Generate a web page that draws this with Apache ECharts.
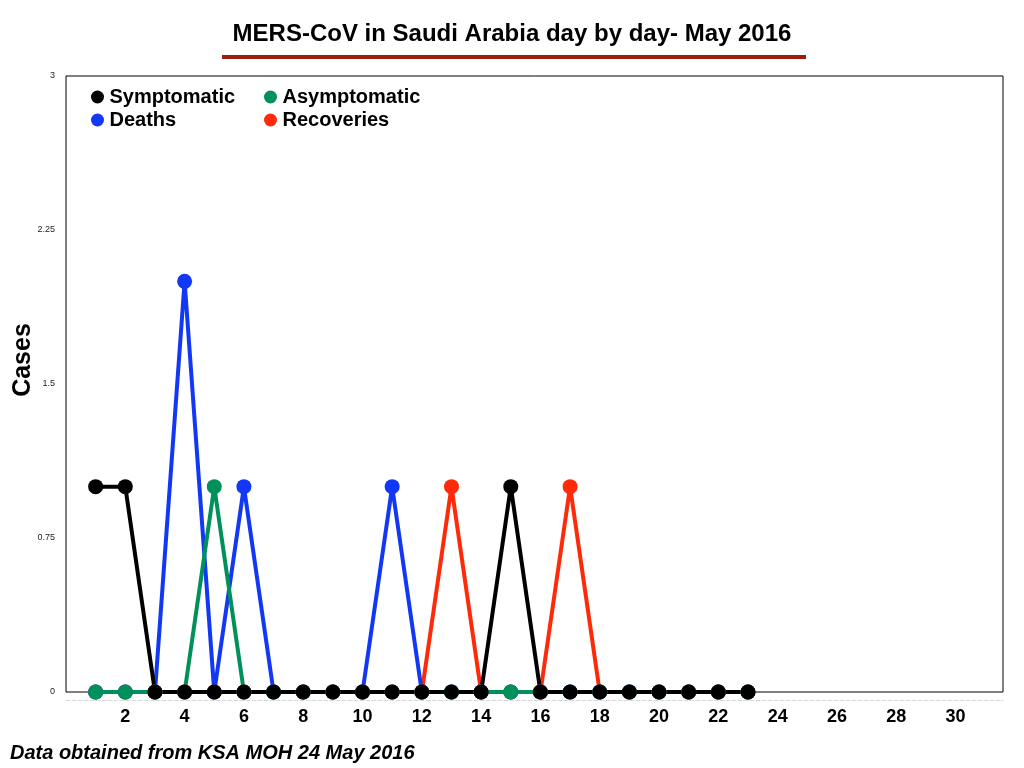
<!DOCTYPE html>
<html>
<head>
<meta charset="utf-8">
<script src="https://cdn.jsdelivr.net/npm/echarts@6/dist/echarts.min.js"></script>
<style>
  html, body { margin: 0; padding: 0; background: #fff; }
  #chart { width: 1024px; height: 768px; }
</style>
</head>
<body>
<div id="chart"></div>
<script>
// May 2016, day of month
const days = [1, 2, 3, 4, 5, 6, 7, 8, 9, 10, 11, 12, 13, 14, 15, 16, 17, 18, 19, 20, 21, 22, 23];
const symptomatic  = [1, 1, 0, 0, 0, 0, 0, 0, 0, 0, 0, 0, 0, 0, 1, 0, 0, 0, 0, 0, 0, 0, 0];
const asymptomatic = [0, 0, 0, 0, 1, 0, 0, 0, 0, 0, 0, 0, 0, 0, 0, 0, 0, 0, 0, 0, 0, 0, 0];
const deaths       = [0, 0, 0, 2, 0, 1, 0, 0, 0, 0, 1, 0, 0, 0, 0, 0, 0, 0, 0, 0, 0, 0, 0];
const recoveries   = [0, 0, 0, 0, 0, 0, 0, 0, 0, 0, 0, 0, 1, 0, 0, 0, 1, 0, 0, 0, 0, 0, 0];
const xTicks = [2, 4, 6, 8, 10, 12, 14, 16, 18, 20, 22, 24, 26, 28, 30];

const font = '"Liberation Sans", Arial, sans-serif';

const pair = (vals) => days.map((d, i) => [d, vals[i]]);
const mkLine = (name, color, vals) => ({
  name,
  type: 'line',
  data: pair(vals),
  symbol: 'circle',
  symbolSize: 15,
  lineStyle: { color, width: 4 },
  itemStyle: { color },
  animation: false
});

const legendText = { fontFamily: font, fontSize: 20, fontWeight: 'bold', color: '#000' };

const chart = echarts.init(document.getElementById('chart'), null, { renderer: 'canvas' });
chart.setOption({
  backgroundColor: '#fff',
  title: [
    {
      text: 'MERS-CoV in Saudi Arabia day by day- May 2016',
      left: 'center',
      top: 17,
      textStyle: { fontFamily: font, fontSize: 24, fontWeight: 'bold', color: '#000' }
    },
    {
      text: 'Data obtained from KSA MOH 24 May 2016',
      left: 5,
      top: 738,
      textStyle: { fontFamily: font, fontSize: 20, fontWeight: 'bold', fontStyle: 'italic', color: '#000' }
    }
  ],
  graphic: [
    { type: 'rect', shape: { x: 222, y: 55, width: 584, height: 4 }, style: { fill: '#9b1d0e' } }
  ],
  legend: [
    {
      data: ['Symptomatic', 'Deaths'],
      orient: 'vertical',
      left: 86,
      top: 82,
      icon: 'circle',
      itemWidth: 14,
      itemHeight: 13,
      itemGap: 3,
      textStyle: legendText
    },
    {
      data: ['Asymptomatic', 'Recoveries'],
      orient: 'vertical',
      left: 259,
      top: 82,
      icon: 'circle',
      itemWidth: 14,
      itemHeight: 13,
      itemGap: 3,
      textStyle: legendText
    }
  ],
  grid: {
    left: 66, right: 21, top: 76, bottom: 76,
    outerBoundsMode: 'none',
    show: true, borderColor: '#000', borderWidth: 1, backgroundColor: 'transparent'
  },
  xAxis: [
    {
      type: 'value',
      min: 0,
      max: 31.6,
      interval: 2,
      axisLine: { show: false },
      axisTick: { show: false },
      splitLine: { show: false },
      axisLabel: {
        customValues: xTicks,
        margin: 16,
        fontFamily: font, fontSize: 18, fontWeight: 'bold', color: '#000'
      }
    },
    {
      type: 'value',
      min: 0,
      max: 31.6,
      position: 'bottom',
      offset: 8,
      axisLine: { show: true, lineStyle: { color: '#d8d8d8', type: 'dashed', width: 1 } },
      axisTick: { show: false },
      axisLabel: { show: false },
      splitLine: { show: false }
    }
  ],
  yAxis: {
    type: 'value',
    name: 'Cases',
    nameLocation: 'middle',
    nameGap: 30,
    nameMoveOverlap: false,
    nameTextStyle: {
      fontFamily: font, fontSize: 25, fontWeight: 'bold', color: '#000',
      padding: [0, 0, 0, 48]
    },
    min: 0,
    max: 3,
    interval: 0.75,
    axisLine: { show: false },
    axisTick: { show: false },
    splitLine: { show: false },
    axisLabel: { margin: 11, fontFamily: font, fontSize: 9, color: '#222' }
  },
  series: [
    mkLine('Recoveries', '#ff2a0a', recoveries),
    mkLine('Deaths', '#1238f5', deaths),
    mkLine('Asymptomatic', '#00915a', asymptomatic),
    mkLine('Symptomatic', '#000000', symptomatic)
  ]
});
</script>
</body>
</html>
